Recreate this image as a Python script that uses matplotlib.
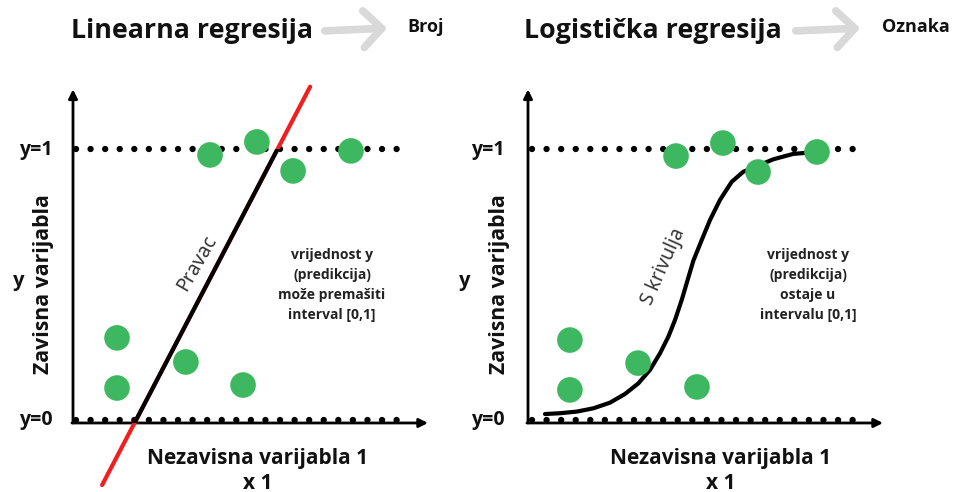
import numpy as np
import matplotlib
matplotlib.use("Agg")
import matplotlib.pyplot as plt
from matplotlib.patches import FancyArrowPatch, Rectangle

plt.rcParams['font.family'] = ['Open Sans', 'DejaVu Sans']

# ---------------- data ----------------
# Linear regression panel: points (x, y)
lin_x = [3.86, 5.18, 6.20, 7.83, 1.24, 1.24, 3.18, 4.79]
lin_y = [0.978, 1.026, 0.919, 0.993, 0.303, 0.118, 0.214, 0.129]
# fitted straight line endpoints
line_x = [0.82, 6.68]
line_y = [-0.24, 1.23]

# Logistic regression panel: points (x, y)
log_x = [4.17, 5.49, 6.48, 8.14, 1.18, 1.18, 3.10, 4.76]
log_y = [0.974, 1.022, 0.915, 0.989, 0.295, 0.111, 0.210, 0.122]
# S-curve
s_x = [0.479, 0.901, 1.372, 1.839, 2.310, 2.732, 3.107, 3.437, 3.718, 3.952,
       4.141, 4.330, 4.479, 4.656, 4.893, 5.127, 5.408, 5.738, 6.065, 6.910,
       7.473, 7.851, 8.028]
s_y = [0.022, 0.025, 0.031, 0.043, 0.064, 0.096, 0.135, 0.185, 0.246, 0.307,
       0.369, 0.443, 0.509, 0.587, 0.664, 0.738, 0.812, 0.879, 0.916, 0.962,
       0.982, 0.986, 0.989]

titles = ["Linearna regresija", "Logistička regresija"]
outputs = ["Broj", "Oznaka"]
xlabel = "Nezavisna varijabla 1\nx 1"
ylabel = "Zavisna varijabla"
notes = ["vrijednost y\n(predikcija)\nmože premašiti\ninterval [0,1]",
         "vrijednost y\n(predikcija)\nostaje u\nintervalu [0,1]"]
curve_labels = ["Pravac", "S krivulja"]

GREEN = "#3DB860"
INK = "#111111"
W, H = 959, 492
fig = plt.figure(figsize=(W / 100, H / 100), dpi=100)

PXX = 35.5   # pixels per x unit
PXY = 271.0  # pixels per y unit
Y0PX = 420.0

def make_axes(left_px, right_px, origin_px):
    ax = fig.add_axes([left_px / W, 0, (right_px - left_px) / W, 1])
    ax.set_xlim((left_px - origin_px) / PXX, (right_px - origin_px) / PXX)
    ax.set_ylim(-(H - Y0PX) / PXY, Y0PX / PXY)
    ax.axis('off')
    return ax

axL = make_axes(0, 480, 73)
axR = make_axes(480, 959, 528)

def common(ax, dots_end1, dots_end0, xstart):
    # dotted guide lines
    ax.plot([xstart, dots_end1], [1, 1], color='black', lw=4.6,
            ls=(0, (0.001, 2.28)), dash_capstyle='round', zorder=2)
    ax.plot([xstart, dots_end0], [0, 0], color='black', lw=4.6,
            ls=(0, (0.001, 2.28)), dash_capstyle='round', zorder=2)
    # axes with arrows
    ax.annotate('', xy=(10.0, -0.011), xytext=(-0.03, -0.011),
                arrowprops=dict(arrowstyle='-|>', lw=2.0, color='black',
                                mutation_scale=13, shrinkA=0, shrinkB=0), zorder=3)
    ax.annotate('', xy=(0, 1.22), xytext=(0, -0.011),
                arrowprops=dict(arrowstyle='-|>', lw=2.0, color='black',
                                mutation_scale=13, shrinkA=0, shrinkB=0), zorder=3)

common(axL, 9.13, 9.27, 0.08)
common(axR, 9.21, 9.27, 0.11)

# linear: red full line, black portion between y=0 and y=1
axL.plot(line_x, line_y, color='#F01E1E', lw=3.0, solid_capstyle='round', zorder=3)
blk, = axL.plot(line_x, line_y, color='black', lw=3.0, zorder=3.5)
clip = Rectangle((-5, -0.011), 30, 1.011, transform=axL.transData)
blk.set_clip_path(clip)

# logistic S curve
axR.plot(s_x, s_y, color='black', lw=3.0, solid_joinstyle='round',
         solid_capstyle='round', zorder=3)

axL.scatter(lin_x, lin_y, s=340, color=GREEN, edgecolors='none', zorder=5)
axR.scatter(log_x, log_y, s=340, color=GREEN, edgecolors='none', zorder=5)

# ---------------- texts ----------------
def fx(px):
    return px / W

def fy(py):
    return 1 - py / H

BW = 'bold'

for i, (tx, ox, a0, a1, ylx, yx, ytx, xlx, notex, clx, cly, crot) in enumerate([
        (192, 426, 322, 390, 53, 19, 44, 258, 332, 197, 263, 60),
        (653, 916, 793, 863, 505, 465, 500, 721, 808, 664, 267, 66)]):
    fig.text(fx(tx), fy(31), titles[i], ha='center', va='center',
             fontsize=19.3, fontweight=BW, color=INK)
    fig.text(fx(ox), fy(27), outputs[i], ha='center', va='center',
             fontsize=13, fontweight=BW, color=INK)
    arr = FancyArrowPatch((fx(a0), fy(31)), (fx(a1), fy(28)),
                          transform=fig.transFigure,
                          arrowstyle='->,head_length=0.6,head_width=0.6',
                          mutation_scale=22, lw=5.5, color='#D9D9D9',
                          capstyle='round', joinstyle='round')
    fig.patches.append(arr)
    fig.text(fx(ylx), fy(150), "y=1", ha='right', va='center',
             fontsize=14, fontweight=BW, color=INK)
    fig.text(fx(ylx), fy(420), "y=0", ha='right', va='center',
             fontsize=14, fontweight=BW, color=INK)
    fig.text(fx(yx), fy(281), "y", ha='center', va='center',
             fontsize=14.5, fontweight=BW, color=INK)
    fig.text(fx(ytx), fy(284), ylabel, ha='center', va='center', rotation=90,
             fontsize=15.3, fontweight=BW, color=INK)
    fig.text(fx(xlx), fy(471), xlabel, ha='center', va='center',
             fontsize=15, fontweight=BW, color=INK, linespacing=1.2)
    fig.text(fx(notex), fy(285), notes[i], ha='center', va='center',
             fontsize=10, fontweight='bold', color='#222222', linespacing=1.55)
    fig.text(fx(clx), fy(cly), curve_labels[i], ha='center', va='center',
             rotation=crot, fontsize=14, color='#333333',
             family=['Noto Sans', 'DejaVu Sans'], fontstyle='normal',
             fontweight='normal')

fig.savefig("out.png", dpi=100, facecolor='white')
